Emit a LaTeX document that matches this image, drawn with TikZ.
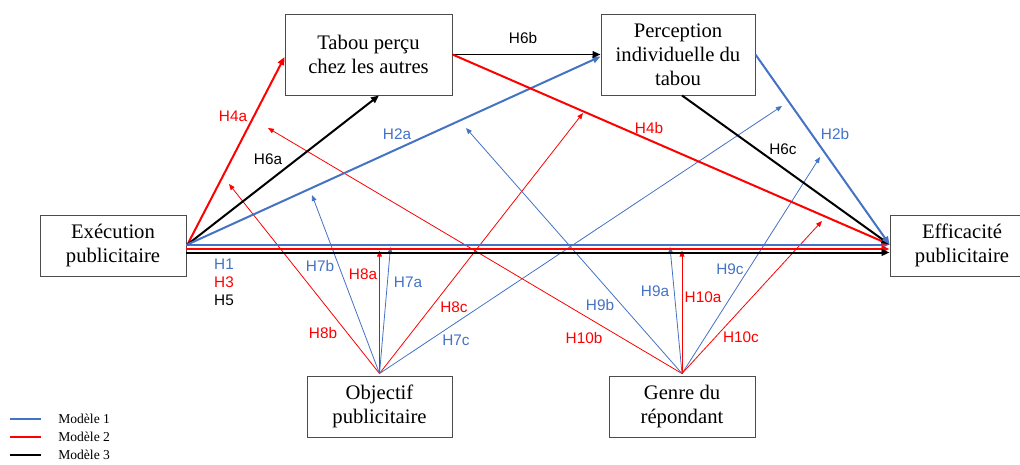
\documentclass[tikz,border=0pt]{standalone}
\usepackage{fontspec}
\setmainfont{Liberation Serif}
\newfontfamily\labfont{Liberation Sans}
\usetikzlibrary{arrows.meta,calc}
\definecolor{mblue}{RGB}{68,114,196}
\definecolor{mred}{RGB}{255,0,0}
\begin{document}
\begin{tikzpicture}[x=0.75pt,y=-0.75pt,
  box/.style={draw=black!70,line width=0.7pt,fill=white,inner sep=0pt,align=center,
    font=\fontsize{15.5pt}{18pt}\selectfont},
  thickarr/.style={line width=1.5pt,-{Triangle[length=6pt,width=5pt]}},
  thinarr/.style={line width=0.6pt,-{Triangle[length=4.5pt,width=3.6pt]}},
  lab/.style={font=\labfont\fontsize{11.5pt}{13pt}\selectfont,inner sep=0pt},
  legtext/.style={font=\fontsize{10.2pt}{12pt}\selectfont,anchor=west,inner sep=0pt}]
\useasboundingbox (0,0) rectangle (1020,464);

% boxes
\node[box,minimum width=125.25pt,minimum height=60.75pt] (tabou) at (368.5,54.5) {Tabou perçu\\chez les autres};
\node[box,minimum width=115.5pt,minimum height=60.75pt] (perc) at (678,54.5) {Perception\\individuelle du\\tabou};
\node[box,minimum width=109.5pt,minimum height=45.75pt] (exec) at (113,245.5) {Exécution\\publicitaire};
\node[box,minimum width=108pt,minimum height=45.75pt] (eff) at (962,245.5) {Efficacité\\publicitaire};
\node[box,minimum width=108.75pt,minimum height=45.75pt] (obj) at (379.5,406.5) {Objectif\\publicitaire};
\node[box,minimum width=109.5pt,minimum height=45.75pt] (genre) at (682,406.5) {Genre du\\répondant};

% free ends of the moderation arrows
\coordinate (e8b) at (229,184);
\coordinate (e7b) at (312,195);
\coordinate (e8a) at (379.5,250.5);
\coordinate (e7a) at (390.5,247);
\coordinate (e8c) at (583,113);
\coordinate (e7c) at (782,106);
\coordinate (e10b) at (268,128);
\coordinate (e9b) at (466,128);
\coordinate (e9a) at (670,247);
\coordinate (e10a) at (682,250.5);
\coordinate (e9c) at (820,157);
\coordinate (e10c) at (822,221);

% thin moderation arrows
\draw[thinarr,mred] ($(obj.north)+(0,-2)$) -- (e8b);
\draw[thinarr,mblue] ($(obj.north)+(0,-2)$) -- (e7b);
\draw[thinarr,mred] ($(obj.north)+(0,-2)$) -- (e8a);
\draw[thinarr,mblue] ($(obj.north)+(0,-2)$) -- (e7a);
\draw[thinarr,mred] ($(obj.north)+(0,-2)$) -- (e8c);
\draw[thinarr,mblue] ($(obj.north)+(0,-2)$) -- (e7c);
\draw[thinarr,mred] ($(genre.north)+(0,-2)$) -- (e10b);
\draw[thinarr,mblue] ($(genre.north)+(0,-2)$) -- (e9b);
\draw[thinarr,mblue] ($(genre.north)+(0,-2)$) -- (e9a);
\draw[thinarr,mred] ($(genre.north)+(0,-2)$) -- (e10a);
\draw[thinarr,mblue] ($(genre.north)+(0,-2)$) -- (e9c);
\draw[thinarr,mred] ($(genre.north)+(0,-2)$) -- (e10c);

% main direct paths
\draw[thickarr,mblue] ($(exec.east)+(0,-1)$) -- ($(eff.west)+(0,-1)$);
\draw[thickarr,mred] ($(exec.east)+(0,3.5)$) -- ($(eff.west)+(0,3.5)$);
\draw[thickarr,black] ($(exec.east)+(0,7)$) -- ($(eff.west)+(0,7)$);

% mediation paths
\draw[thickarr,mred] ($(exec.east)+(1,-1)$) -- ($(tabou.west)+(0,2.5)$);
\draw[thickarr,black] ($(exec.east)+(1,-1)$) -- ($(tabou.south)+(10.5,0)$);
\draw[thickarr,mblue] ($(exec.east)+(1,-1)$) -- ($(perc.west)+(0,2)$);
\draw[thickarr,black,line width=1.2pt] (tabou.east) -- (perc.west);
\draw[thickarr,mred] (tabou.east) -- ($(eff.west)+(0,-1)$);
\draw[thickarr,black] ($(perc.south)+(4,0)$) -- ($(eff.west)+(0,-1)$);
\draw[thickarr,mblue] (perc.east) -- ($(eff.west)+(0,-1)$);

% labels
\node[lab,mred] at (233,116) {H4a};
\node[lab] at (268,159) {H6a};
\node[lab,mblue] at (397,134) {H2a};
\node[lab] at (523,38) {H6b};
\node[lab,mred] at (649,128) {H4b};
\node[lab] at (783,149) {H6c};
\node[lab,mblue] at (835,134) {H2b};
\node[lab,mblue] at (224,264) {H1};
\node[lab,mred] at (224,282) {H3};
\node[lab] at (224,300) {H5};
\node[lab,mblue] at (320,266) {H7b};
\node[lab,mred] at (363,274) {H8a};
\node[lab,mblue] at (408,282) {H7a};
\node[lab,mred] at (454,307) {H8c};
\node[lab,mred] at (323,333) {H8b};
\node[lab,mblue] at (456,340) {H7c};
\node[lab,mblue] at (600,305) {H9b};
\node[lab,mblue] at (655,291) {H9a};
\node[lab,mred] at (703,297) {H10a};
\node[lab,mblue] at (730,269) {H9c};
\node[lab,mred] at (584,338) {H10b};
\node[lab,mred] at (741,337) {H10c};

% legend
\coordinate (l1a) at (10,419); \coordinate (l1b) at (41,419);
\coordinate (l2a) at (10,437); \coordinate (l2b) at (41,437);
\coordinate (l3a) at (10,455); \coordinate (l3b) at (41,455);
\draw[mblue,line width=1pt] (l1a) -- (l1b);
\draw[mred,line width=1pt] (l2a) -- (l2b);
\draw[black,line width=1pt] (l3a) -- (l3b);
\node[legtext] (m1) at (58,419) {Modèle 1};
\node[legtext] (m2) at (58,437) {Modèle 2};
\node[legtext] (m3) at (58,455) {Modèle 3};
\end{tikzpicture}
\end{document}
